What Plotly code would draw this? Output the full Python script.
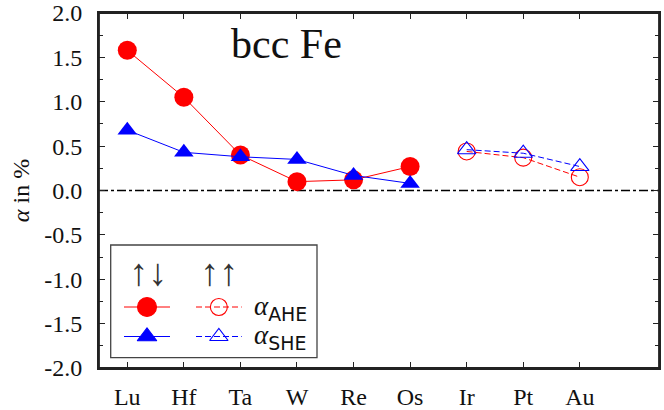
import plotly.graph_objects as go

# ---- data ----
elements = ["Lu", "Hf", "Ta", "W", "Re", "Os", "Ir", "Pt", "Au"]
anti_elements = ["Lu", "Hf", "Ta", "W", "Re", "Os"]          # ↑↓ (filled)
para_elements = ["Ir", "Pt", "Au"]                            # ↑↑ (open)
ahe_anti = [1.58, 1.05, 0.40, 0.10, 0.12, 0.27]
she_anti = [0.68, 0.43, 0.38, 0.35, 0.17, 0.08]
ahe_para = [0.44, 0.37, 0.15]
she_para = [0.46, 0.42, 0.27]
ytick_vals = [-2.0, -1.5, -1.0, -0.5, 0.0, 0.5, 1.0, 1.5, 2.0]
ytick_text = ["-2.0", "-1.5", "-1.0", "-0.5", "0.0", "0.5", "1.0", "1.5", "2.0"]

RED = "#ff0000"
BLUE = "#0000ff"
SERIF = "Liberation Serif"
AX = "#222222"

W, H = 664, 410
ML, MR, MT, MB = 99, 5, 13, 42
XR = [-0.5, 9.4]
YR = [-2.0, 2.0]


def idx(names):
    return [elements.index(n) for n in names]


# pixel -> data / paper helpers for the hand-made legend box
def px_x(px):
    return XR[0] + (px - ML) / (W - ML - MR) * (XR[1] - XR[0])


def px_y(py):
    return YR[1] - (py - MT) / (H - MT - MB) * (YR[1] - YR[0])


def px_px(px):
    return (px - ML) / (W - ML - MR)


def px_py(py):
    return 1 - (py - MT) / (H - MT - MB)


fig = go.Figure()

# zero line (dash-dot)
fig.add_shape(type="line", xref="paper", x0=0, x1=1, yref="y", y0=0, y1=0,
              line=dict(color="black", width=1.3, dash="dashdot"), layer="below")

# legend frame
fig.add_shape(type="rect", xref="paper", yref="paper",
              x0=px_px(110.7), x1=px_px(317), y0=px_py(357.7), y1=px_py(245),
              line=dict(color="#444444", width=1.3), fillcolor="white", layer="below")

# plot frame
fig.add_shape(type="rect", xref="paper", yref="paper", x0=0, x1=1, y0=0, y1=1,
              line=dict(color=AX, width=1.8), fillcolor="rgba(0,0,0,0)", layer="above")

fig.add_trace(go.Scatter(x=idx(anti_elements), y=ahe_anti, mode="lines+markers",
                         line=dict(color=RED, width=1),
                         marker=dict(symbol="circle", size=19, color=RED),
                         showlegend=False))
fig.add_trace(go.Scatter(x=idx(anti_elements), y=she_anti, mode="lines+markers",
                         line=dict(color=BLUE, width=1),
                         marker=dict(symbol="triangle-up", size=17, color=BLUE),
                         showlegend=False))
fig.add_trace(go.Scatter(x=idx(para_elements), y=ahe_para, mode="lines+markers",
                         line=dict(color=RED, width=1, dash="6px,3px"),
                         marker=dict(symbol="circle-open", size=17, color=RED,
                                     line=dict(width=1.1)),
                         showlegend=False))
fig.add_trace(go.Scatter(x=idx(para_elements), y=she_para, mode="lines+markers",
                         line=dict(color=BLUE, width=1, dash="6px,3px"),
                         marker=dict(symbol="triangle-up-open", size=16, color=BLUE,
                                     line=dict(width=1.1)),
                         showlegend=False))

# ---- custom legend samples ----
leg_x = [124, 170]
leg_x_open = [196, 241.7]
row_ahe = 307
row_she = 336.5
samples = [
    (leg_x, row_ahe, RED, "solid", "circle", 19),
    (leg_x, row_she, BLUE, "solid", "triangle-up", 17),
    (leg_x_open, row_ahe, RED, "6px,3px", "circle-open", 17),
    (leg_x_open, row_she, BLUE, "6px,3px", "triangle-up-open", 16),
]
for xs, row, col, dash, sym, sz in samples:
    fig.add_trace(go.Scatter(x=[px_x(xs[0]), px_x(xs[1])], y=[px_y(row), px_y(row)], mode="lines",
                             line=dict(color=col, width=1, dash=dash),
                             showlegend=False, hoverinfo="skip"))
    fig.add_trace(go.Scatter(x=[px_x(sum(xs) / 2)], y=[px_y(row)], mode="markers",
                             marker=dict(symbol=sym, size=sz, color=col, line=dict(width=1.1, color=col)),
                             showlegend=False, hoverinfo="skip"))


def ann(text, px, py, size, color="#111111", xanchor="center"):
    return dict(text=text, x=px_px(px), y=px_py(py), xref="paper", yref="paper", showarrow=False,
                xanchor=xanchor, yanchor="middle", font=dict(family=SERIF, size=size, color=color))


annotations = [
    ann("bcc Fe", 286, 44, 42),
    ann("↑↓", 148, 272, 38, "#333333"),
    ann("↑↑", 219, 272, 38, "#333333"),
    ann("<i>α</i><span style='font-family:DejaVu Sans'><sub>AHE</sub></span>", 252, 308, 27, xanchor="left"),
    ann("<i>α</i><span style='font-family:DejaVu Sans'><sub>SHE</sub></span>", 252, 337, 27, xanchor="left"),
]

fig.update_layout(
    width=W, height=H,
    margin=dict(l=ML, r=MR, t=MT, b=MB, autoexpand=False),
    plot_bgcolor="white", paper_bgcolor="white",
    font=dict(family=SERIF, size=24, color="#111111"),
    annotations=annotations,
    xaxis=dict(
        range=XR, tickvals=list(range(len(elements))), ticktext=elements,
        showgrid=False, zeroline=False, automargin=False,
        showline=True, linecolor=AX, linewidth=1.8, mirror="ticks",
        ticks="inside", ticklen=6, tickcolor=AX, tickwidth=1.2,
        tickfont=dict(family=SERIF, size=24, color="#111111"),
        ticklabelstandoff=6,
    ),
    yaxis=dict(
        range=YR, tickvals=ytick_vals, ticktext=ytick_text,
        showgrid=False, zeroline=False, automargin=False,
        showline=True, linecolor=AX, linewidth=1.8, mirror="ticks",
        ticks="inside", ticklen=6, tickcolor=AX, tickwidth=1.2,
        minor=dict(dtick=0.25, ticks="inside", ticklen=4, tickcolor=AX, tickwidth=1.2, showgrid=False),
        tickfont=dict(family=SERIF, size=24, color="#111111"),
        ticklabelstandoff=10,
        title=dict(text="<i>α</i> in %", font=dict(family=SERIF, size=24, color="#111111"), standoff=8),
    ),
)

fig.write_html("out.html", config={"displayModeBar": False},
               post_script="document.body.style.margin='0';document.body.style.overflow='hidden';")
